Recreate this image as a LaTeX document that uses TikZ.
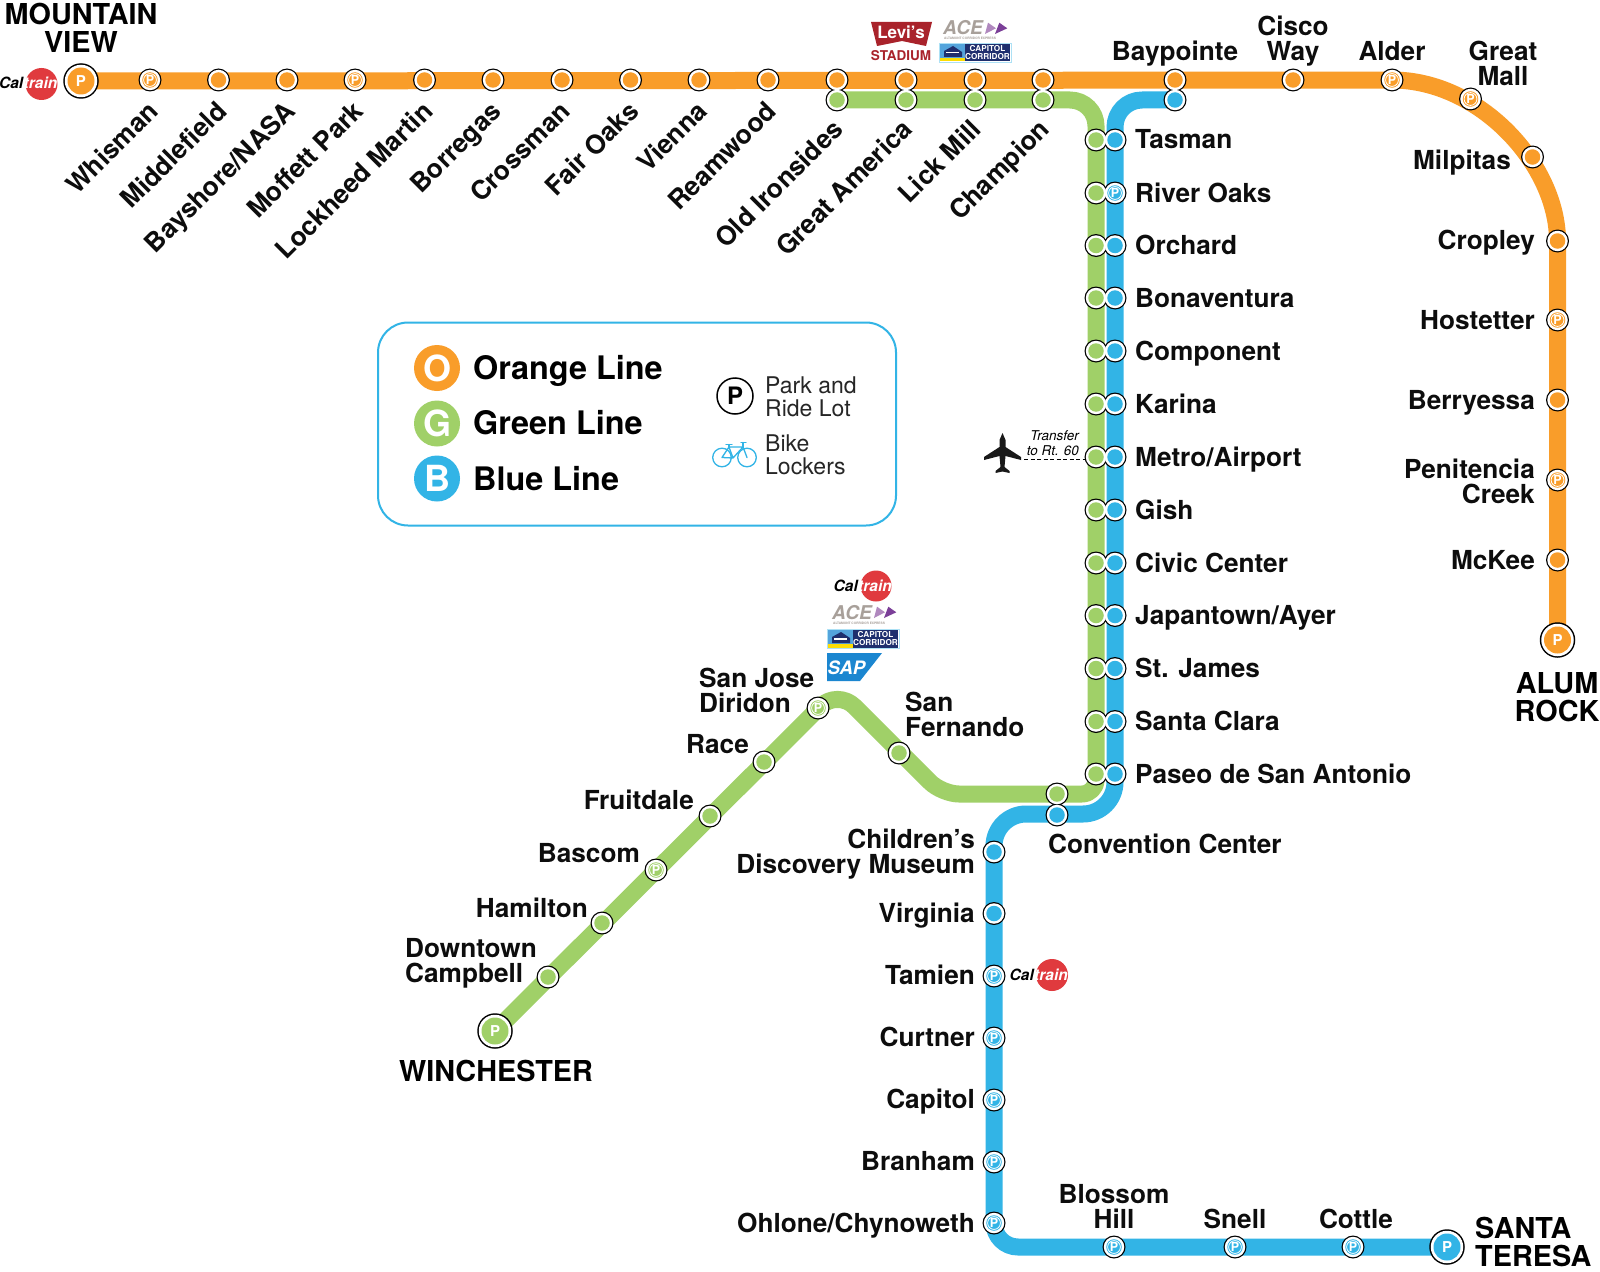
\documentclass[tikz,border=0pt]{standalone}
\usepackage{fontspec}
\setmainfont{TeX Gyre Heros}
\definecolor{lineO}{HTML}{F99D2A}
\definecolor{lineG}{HTML}{A0D068}
\definecolor{lineB}{HTML}{32B4E6}
\definecolor{calred}{HTML}{E03A3E}
\definecolor{levired}{HTML}{A9232B}
\definecolor{navyc}{HTML}{1F2F6E}
\definecolor{acegray}{HTML}{A8A09A}
\definecolor{acepurple}{HTML}{7B3F98}
\definecolor{acelilac}{HTML}{B088BE}
\definecolor{sapblue}{HTML}{1B86D0}
\newcommand{\fs}[1]{\fontsize{#1}{#1}\selectfont}
\tikzset{
  metro/.style={line width=17pt,line cap=butt,line join=round},
  lab/.style={inner sep=0pt,font=\bfseries\fontsize{26.2}{25}\selectfont,text=black!95},
  lableft/.style={lab,anchor=base west},
  labright/.style={lab,anchor=base east},
  labmid/.style={lab,anchor=base},
  labdiag/.style={lab,anchor=base east,rotate=45},
  term/.style={inner sep=0pt,font=\bfseries\fontsize{28.8}{27.5}\selectfont,text=black,anchor=base},
  ringdisc/.style={circle,inner sep=0pt,minimum size=#1,fill=black},
  whitedisc/.style={circle,inner sep=0pt,minimum size=#1,fill=white},
  inner/.style={circle,inner sep=0pt,minimum size=15.5pt,fill=#1},
  legdisc/.style={circle,inner sep=0pt,minimum size=46pt,fill=#1,text=white,font=\bfseries\fs{36}},
  leglab/.style={inner sep=0pt,anchor=base west,font=\bfseries\fs{32.4},text=black},
  legsmall/.style={inner sep=0pt,anchor=base west,font=\fontsize{23}{23}\selectfont,text=black!85},
}
% name / x / y / colour / kind (0 plain, 1 P, 2 terminal)
\def\stnlist{
 mv/81/81/lineO/2, whisman/150/80/lineO/1, middlefield/218.5/80/lineO/0, bayshore/287/80/lineO/0,
 moffett/355/80/lineO/1, lockheed/424.5/80/lineO/0, borregas/493/80/lineO/0, crossman/562/80/lineO/0,
 fairoaks/630.5/80/lineO/0, vienna/699/80/lineO/0, reamwood/768/80/lineO/0,
 oio/837/80/lineO/0, gao/906/80/lineO/0, lmo/975/80/lineO/0, cho/1043/80/lineO/0,
 oig/837/100/lineG/0, gag/906/100/lineG/0, lmg/975/100/lineG/0, chg/1043/100/lineG/0,
 bpo/1175/80/lineO/0, bpb/1175/100/lineB/0, cisco/1293/80/lineO/0, alder/1392/80/lineO/1,
 greatmall/1470.5/99/lineO/1, milpitas/1532.5/157/lineO/0, cropley/1557.5/241/lineO/0,
 hostetter/1557.5/320/lineO/1, berryessa/1557.5/400/lineO/0, penitencia/1557.5/480/lineO/1,
 mckee/1557.5/560/lineO/0, alum/1557.5/640/lineO/2,
 g1/1096/140/lineG/0, b1/1115/140/lineB/0, g2/1096/193/lineG/0, b2/1115/193/lineB/1,
 g3/1096/245.5/lineG/0, b3/1115/245.5/lineB/0, g4/1096/298/lineG/0, b4/1115/298/lineB/0,
 g5/1096/351/lineG/0, b5/1115/351/lineB/0, g6/1096/404/lineG/0, b6/1115/404/lineB/0,
 g7/1096/457/lineG/0, b7/1115/457/lineB/0, g8/1096/510/lineG/0, b8/1115/510/lineB/0,
 g9/1096/563/lineG/0, b9/1115/563/lineB/0, g10/1096/615.5/lineG/0, b10/1115/615.5/lineB/0,
 g11/1096/668.5/lineG/0, b11/1115/668.5/lineB/0, g12/1096/721.5/lineG/0, b12/1115/721.5/lineB/0,
 g13/1096/774/lineG/0, b13/1115/774/lineB/0,
 ccg/1057/794/lineG/0, ccb/1057/815/lineB/0,
 sanfernando/899/753/lineG/0, diridon/818/708/lineG/1, race/764/762/lineG/0, fruitdale/710/816/lineG/0,
 bascom/656/870/lineG/1, hamilton/602/923/lineG/0, campbell/548/977/lineG/0, winchester/495/1031/lineG/2,
 childrens/994/852/lineB/0, virginia/994/913.5/lineB/0, tamien/994/976/lineB/1, curtner/994/1038/lineB/1,
 capitol/994/1100/lineB/1, branham/994/1162/lineB/1, ohlone/994/1223/lineB/1,
 blossom/1114/1247/lineB/1, snell/1235/1247/lineB/1, cottle/1353/1247/lineB/1, teresa/1447/1247/lineB/2}
\newcommand{\caltrainlogo}[3]{% x y of red circle, size
  \begin{scope}[shift={(#1,#2)}]
    \fill[calred] (0,0) circle (#3pt);
    \node[inner sep=0pt,anchor=base east,font=\bfseries\itshape\fs{15.5},text=black] at (-18,5) {Cal};
    \node[inner sep=0pt,anchor=base west,font=\bfseries\itshape\fs{15.5},text=white] at (-18,5) {train};
  \end{scope}}
\newcommand{\acelogo}[2]{% left, top
  \begin{scope}[shift={(#1,#2)}]
    \node[inner sep=0pt,anchor=base west,font=\bfseries\itshape\fs{19},text=acegray] at (0,14) {ACE};
    \fill[acelilac] (45,1.7) -- (53,7.3) -- (42,13) -- cycle;
    \fill[acepurple] (56.3,1.7) -- (64.3,7.3) -- (52,13) -- cycle;
    \node[inner sep=0pt,anchor=base west,font=\bfseries\fs{3.2},text=acegray] at (1,19) {ALTAMONT CORRIDOR EXPRESS};
  \end{scope}}
\newcommand{\capcorlogo}[2]{% left, top
  \begin{scope}[shift={(#1,#2)}]
    \fill[white,draw=lineB!40,line width=.6pt] (0,0) rectangle (72,19.5);
    \fill[sapblue!75] (1,1) rectangle (26,18.5);
    \fill[navyc] (5,8) -- (14,3) -- (23,9) -- (23,14) -- (5,14) -- cycle;
    \fill[white] (7,9) rectangle (20,10.5);
    \fill[yellow!80!orange] (1,15) rectangle (26,18.5);
    \fill[navyc] (26,1) rectangle (71,18.5);
    \node[inner sep=0pt,align=center,font=\bfseries\fontsize{8.2}{7.8}\selectfont,text=white] at (48.5,9.6) {CAPITOL\\CORRIDOR};
  \end{scope}}
\begin{document}
\begin{tikzpicture}[x=1pt,y=-1pt]
\useasboundingbox (0,0) rectangle (1600,1271);
\fill[white] (0,0) rectangle (1600,1271);
\foreach \n/\x/\y/\c/\k in \stnlist { \coordinate (\n) at (\x,\y); }
% lines
\draw[metro,lineO] (mv) -- (alder) .. controls (1480,80) and (1557.5,165) .. (cropley) -- (alum);
\draw[metro,lineG] (oig) [rounded corners=26pt] -- (1096,100) [rounded corners=14pt] -- (1096,794)
  [rounded corners=17pt] -- (942,794) [rounded corners=24pt] -- (837.5,689.5) [sharp corners] -- (winchester);
\draw[metro,lineB] (bpb) [rounded corners=27pt] -- (1115,100) [rounded corners=32pt] -- (1115,814)
  -- (994,814) [rounded corners=24pt] -- (994,1247) [sharp corners] -- (teresa);
% transfer
\coordinate (dashend) at (1024,459.5);
\draw[dashed,line width=.9pt,dash pattern=on 4pt off 2.5pt] (dashend) -- (g7 |- dashend);
% stations: black rings, then white, then inner discs, so that pairs merge
\foreach \n/\x/\y/\c/\k in \stnlist {
  \ifnum\k=2 \node[ringdisc=35.5pt] at (\n) {}; \else \node[ringdisc=23pt] at (\n) {}; \fi }
\foreach \n/\x/\y/\c/\k in \stnlist {
  \ifnum\k=2 \node[whitedisc=32.5pt] at (\n) {}; \else \node[whitedisc=20.5pt] at (\n) {}; \fi }
\foreach \n/\x/\y/\c/\k in \stnlist {
  \ifnum\k=2
    \node[circle,inner sep=0pt,minimum size=27pt,fill=\c,text=white,font=\bfseries\fs{15}] (st-\n) at (\n) {P};
  \else
    \node[inner=\c] (st-\n) at (\n) {};
    \ifnum\k=1
      \draw[white,line width=.8pt] (\n) circle (6.4pt);
      \node[inner sep=0pt,text=white,font=\bfseries\fs{12.5}] at (\n) {P};
    \fi
  \fi }
% diagonal labels
\foreach \s/\t in {whisman/Whisman,middlefield/Middlefield,bayshore/Bayshore{/}NASA,moffett/Moffett Park,
  lockheed/Lockheed Martin,borregas/Borregas,crossman/Crossman,fairoaks/Fair Oaks,vienna/Vienna,reamwood/Reamwood}
  { \node[labdiag] (l-\s) at ([shift={(10,33)}]\s) {\t}; }
\foreach \s/\t in {oig/Old Ironsides,gag/Great America,lmg/Lick Mill,chg/Champion}
  { \node[labdiag] (l-\s) at ([shift={(8,31)}]\s) {\t}; }
% right of the double line
\foreach \s/\t in {b1/Tasman,b2/River Oaks,b3/Orchard,b4/Bonaventura,b5/Component,b6/Karina,b7/Metro{/}Airport,
  b8/Gish,b9/Civic Center,b10/Japantown{/}Ayer,b11/St. James,b12/Santa Clara,b13/Paseo de San Antonio}
  { \node[lableft] (l-\s) at ([shift={(20,9)}]\s) {\t}; }
% top
\node[labmid] (l-bp) at (1175,61) {Baypointe};
\node[labmid,align=center] (l-cisco) at (1293,61) {Cisco\\Way};
\node[labmid] (l-alder) at (1392,61) {Alder};
\node[labmid,align=center] (l-gm) at (1503,86) {Great\\Mall};
\node[term,align=center] (l-mv) at (81,52.5) {MOUNTAIN\\VIEW};
% orange right
\node[labright] (l-milp) at (1511,169) {Milpitas};
\node[labright] (l-crop) at (1535,249) {Cropley};
\node[labright] (l-host) at (1535,329) {Hostetter};
\node[labright] (l-berr) at (1535,409) {Berryessa};
\node[labright,align=right] (l-peni) at (1535,503) {Penitencia\\Creek};
\node[labright] (l-mckee) at (1535,569) {McKee};
\node[term,align=center] (l-alum) at (1557,721) {ALUM\\ROCK};
% green
\node[lableft,align=left] (l-dir) at (699,712) {San Jose\\Diridon};
\node[lableft] (l-race) at (686,753) {Race};
\node[labright] (l-fruit) at (694,809) {Fruitdale};
\node[labright] (l-basc) at (640,862) {Bascom};
\node[labright] (l-ham) at (588,917) {Hamilton};
\node[lableft,align=left] (l-camp) at (405,982) {Downtown\\Campbell};
\node[lableft,align=left] (l-sf) at (905,736) {San\\Fernando};
\node[term] (l-win) at (496,1081) {WINCHESTER};
% blue
\node[labright,align=right] (l-child) at (975,873) {Children’s\\Discovery Museum};
\node[labright] (l-virg) at (975,922) {Virginia};
\node[labright] (l-tam) at (975,984) {Tamien};
\node[labright] (l-curt) at (975,1046) {Curtner};
\node[labright] (l-capi) at (975,1108) {Capitol};
\node[labright] (l-bran) at (975,1170) {Branham};
\node[labright] (l-ohl) at (975,1232) {Ohlone/Chynoweth};
\node[lableft] (l-conv) at (1048,853) {Convention Center};
\node[labmid,align=center] (l-blos) at (1114,1228) {Blossom\\Hill};
\node[labmid] (l-snell) at (1235,1228) {Snell};
\node[labmid] (l-cott) at (1356,1228) {Cottle};
\node[term,anchor=base west,align=left] (l-ter) at (1475,1266) {SANTA\\TERESA};
% transfer text and plane
\node[inner sep=0pt,anchor=base east,align=right,font=\itshape\fontsize{13.5}{14.5}\selectfont] (l-trans) at (1079,455) {Transfer\\to Rt. 60};
\fill[black!90] (1002.5,433) -- (1005.5,440) -- (1005.5,447) -- (1021,457) -- (1021,460) -- (1005.5,456) -- (1004.5,467)
  -- (1009.5,471) -- (1009.5,473) -- (1002.5,471.5) -- (995.5,473) -- (995.5,471) -- (1000.5,467) -- (999.5,456)
  -- (984,460) -- (984,457) -- (999.5,447) -- (999.5,440) -- cycle;
% legend
\draw[lineB,line width=2pt,rounded corners=30pt] (378,322.5) rectangle (896,525.5);
\node[legdisc=lineO] (leg-o) at (437,368) {O};
\node[legdisc=lineG] (leg-g) at (437,423.5) {G};
\node[legdisc=lineB] (leg-b) at (437,478.5) {B};
\node[leglab] (lt-o) at (473,379.5) {Orange Line};
\node[leglab] (lt-g) at (473,434.5) {Green Line};
\node[leglab] (lt-b) at (473,490) {Blue Line};
\node[circle,draw=black,line width=1.5pt,minimum size=36pt,inner sep=0pt,font=\bfseries\fs{24}] (leg-p) at (735,396) {P};
\node[legsmall,align=left] (lt-p) at (765,416) {Park and\\Ride Lot};
\node[legsmall,align=left] (lt-k) at (765,474) {Bike\\Lockers};
\begin{scope}[lineB,line width=1.3pt,line join=round,line cap=round]
  \draw (722,457.5) circle (9.3pt) (747,457.5) circle (9.3pt);
  \draw (722,457.5) -- (733,458) -- (729,447) -- (743,447) -- (747,457.5) (743,447) -- (733,458) (729,447) -- (722,457.5);
  \draw (726,444.5) -- (732,444.5) (729,444.5) -- (729,447) (741,442.5) -- (746,442.5) (743,442.5) -- (743,447);
\end{scope}
% logos
\caltrainlogo{41.5}{84}{16}
\caltrainlogo{1052}{975}{16}
\caltrainlogo{876}{586}{15.5}
\fill[levired] (871,22) -- (932,22) -- (926,46) -- (902,41) -- (877,46) -- cycle;
\node[inner sep=0pt,font=\bfseries\fs{17},text=white] (levi) at (901,32) {Levi’s};
\node[inner sep=0pt,font=\bfseries\fs{13.5},text=levired] (stad) at (901,56) {STADIUM};
\acelogo{943}{21}
\capcorlogo{939}{43}
\acelogo{832}{605}
\capcorlogo{827}{629}
\fill[sapblue] (827,653) -- (882,653) -- (860,681) -- (827,681) -- cycle;
\node[inner sep=0pt,anchor=base west,font=\bfseries\itshape\fs{18.5},text=white] (sap) at (827.5,674) {SAP};
\end{tikzpicture}
\end{document}
